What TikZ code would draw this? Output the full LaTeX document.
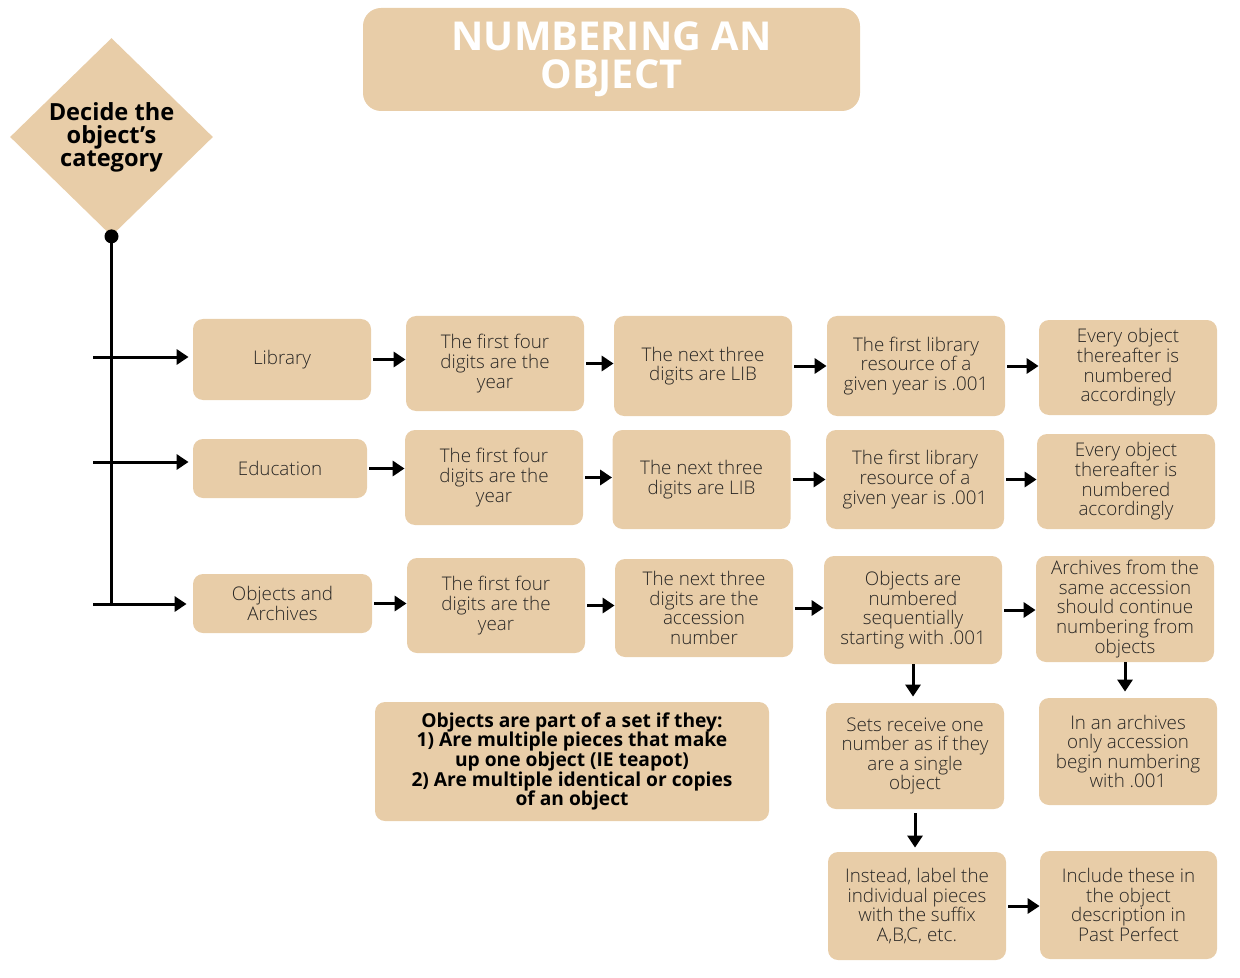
\documentclass[tikz,border=0pt]{standalone}
\usepackage{fontspec}
\setmainfont{Open Sans}
\newfontfamily\lightfont{Open Sans Light}
\usepackage{tikz}
\usetikzlibrary{shapes.geometric,arrows.meta}
\definecolor{tan}{RGB}{232,205,168}
\definecolor{ink}{RGB}{40,38,36}
\tikzstyle{tan box} = [rectangle, rounded corners=5pt, fill=tan, text=ink, align=center, inner sep=1pt, minimum width=89pt, minimum height=47.5pt, font=\lightfont\fontsize{9.4}{9.8}\selectfont]
\tikzstyle{arrow} = [line width=1.5pt, -{Triangle[length=6pt,width=7.5pt]}]

\begin{document}
\begin{tikzpicture}[x=0.5pt, y=-0.5pt]
        \useasboundingbox (0,0) rectangle (1240,978);

        % title and start
        \node (T) [tan box, rounded corners=9pt, minimum width=248.5pt, minimum height=51.5pt, text=white, font=\fontsize{19.9}{19}\selectfont\bfseries] at (611.5,59.5) {NUMBERING AN\\OBJECT};
        \node (D) [diamond, fill=tan, text=black, align=center, inner sep=0pt, minimum width=101.5pt, minimum height=99pt, font=\fontsize{11.8}{11.5}\selectfont\bfseries] at (111.5,137) {Decide the\\object's\\category};

        % library
        \node (L) [tan box, minimum height=40.5pt] at (282,359.5) {Library};
        \node (L1) [tan box] at (495,363.5) {The first four\\digits are the\\year};
        \node (L2) [tan box, minimum height=50pt] at (703,366) {The next three\\digits are LIB};
        \node (L3) [tan box, minimum height=50pt] at (916,366) {The first library\\resource of a\\given year is .001};
        \node (L4) [tan box] at (1128,367.5) {Every object\\thereafter is\\numbered\\accordingly};

        % education
        \node (E) [tan box, minimum width=87pt, minimum height=29.5pt] at (280,468.5) {Education};
        \node (E1) [tan box] at (494,477.5) {The first four\\digits are the\\year};
        \node (E2) [tan box, minimum height=49.5pt] at (701.5,479.5) {The next three\\digits are LIB};
        \node (E3) [tan box, minimum height=49.5pt] at (915,479.5) {The first library\\resource of a\\given year is .001};
        \node (E4) [tan box] at (1126,481.5) {Every object\\thereafter is\\numbered\\accordingly};

        % objects and archives
        \node (OA) [tan box, minimum width=89.5pt, minimum height=29.5pt] at (282.5,603.5) {Objects and\\Archives};
        \node (OA1) [tan box] at (496,605.5) {The first four\\digits are the\\year};
        \node (OA2) [tan box, minimum height=49pt] at (704,608) {The next three\\digits are the\\accession\\number};
        \node (OA3) [tan box, minimum height=54pt] at (913,610) {Objects are\\numbered\\sequentially\\starting with .001};
        \node (OA4) [tan box, minimum height=53pt] at (1125,609) {Archives from the\\same accession\\should continue\\numbering from\\objects};
        \node (OA5) [tan box, minimum height=53pt] at (915,756) {Sets receive one\\number as if they\\are a single\\object};
        \node (OA6) [tan box, minimum height=53.5pt] at (1128,751.5) {In an archives\\only accession\\begin numbering\\with .001};
        \node (OA7) [tan box, minimum height=54pt] at (917,906) {Instead, label the\\individual pieces\\with the suffix\\A,B,C, etc.};
        \node (OA8) [tan box, minimum width=88.5pt, minimum height=54pt] at (1128.5,905) {Include these in\\the object\\description in\\Past Perfect};
        \node (S) [tan box, minimum width=197pt, minimum height=59.5pt, text=black, font=\fontsize{9.6}{9.8}\selectfont\bfseries] at (572,761.5) {Objects are part of a set if they:\\1) Are multiple pieces that make\\up one object (IE teapot)\\2) Are multiple identical or copies\\of an object};

        % branches
        \coordinate (b1) at (93,357);
        \coordinate (b2) at (93,462);
        \coordinate (b3) at (93,604);
        \draw[line width=1.5pt] (D.south) -- (D.south |- b3);
        \fill (D.south) circle (3.5pt);
        \draw[arrow, shorten >=2pt] (b1) -- (b1 -| L.west);
        \draw[arrow, shorten >=2pt] (b2) -- (b2 -| E.west);
        \draw[arrow, shorten >=3pt] (b3) -- (b3 -| OA.west);

        \draw[arrow, shorten <=1pt] (L.east) -- (L.east -| L1.west);
        \draw[arrow, shorten <=1pt] (L1.east) -- (L1.east -| L2.west);
        \draw[arrow, shorten <=1pt] (L2.east) -- (L2.east -| L3.west);
        \draw[arrow, shorten <=1pt] (L3.east) -- (L3.east -| L4.west);
        \draw[arrow, shorten <=1pt] (E.east) -- (E.east -| E1.west);
        \draw[arrow, shorten <=1pt] (E1.east) -- (E1.east -| E2.west);
        \draw[arrow, shorten <=1pt] (E2.east) -- (E2.east -| E3.west);
        \draw[arrow, shorten <=1pt] (E3.east) -- (E3.east -| E4.west);
        \draw[arrow, shorten <=1pt] (OA.east) -- (OA.east -| OA1.west);
        \draw[arrow, shorten <=1pt] (OA1.east) -- (OA1.east -| OA2.west);
        \draw[arrow, shorten <=1pt] (OA2.east) -- (OA2.east -| OA3.west);
        \draw[arrow, shorten <=1pt] (OA3.east) -- (OA3.east -| OA4.west);
        \draw[arrow, shorten <=1pt] (OA7.east) -- (OA7.east -| OA8.west);
        \draw[arrow, shorten >=3pt] (OA3.south) -- (OA3.south |- OA5.north);
        \draw[arrow, shorten >=3pt] (OA4.south) -- (OA4.south |- OA6.north);
        \draw[arrow, shorten <=2pt, shorten >=2pt] (OA5.south) -- (OA5.south |- OA7.north);

    \end{tikzpicture}
\end{document}
